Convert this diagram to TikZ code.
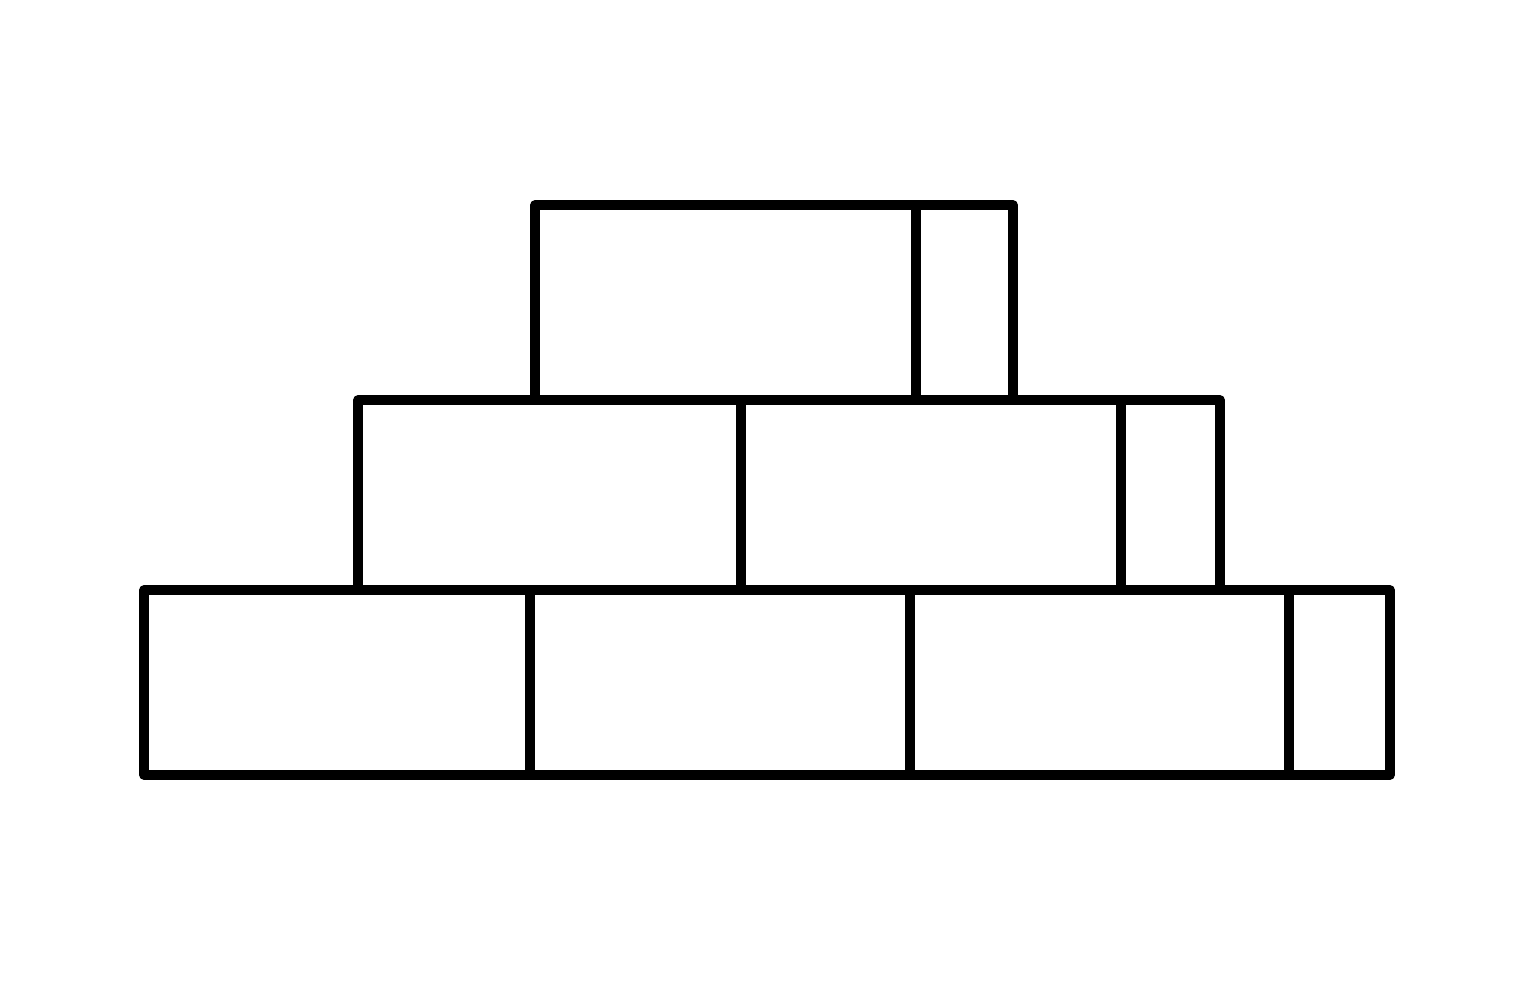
\documentclass[tikz,border=0pt]{standalone}
\begin{document}
\begin{tikzpicture}[brick/.style={black,line width=2.7pt,line join=round}]

        \useasboundingbox (0,0) rectangle (15.35,9.80);

        % bottom row
        \draw [brick] (1.44,2.05) rectangle (5.30,3.90);
        \draw [brick] (5.30,2.05) rectangle (9.10,3.90);
        \draw [brick] (9.10,2.05) rectangle (12.89,3.90);
        \draw [brick] (12.89,2.05) rectangle (13.90,3.90); % half brick

        % middle row
        \draw [brick] (3.58,3.90) rectangle (7.41,5.80);
        \draw [brick] (7.41,3.90) rectangle (11.21,5.80);
        \draw [brick] (11.21,3.90) rectangle (12.20,5.80); % half brick

        % top row
        \draw [brick] (5.35,5.80) rectangle (9.16,7.75);
        \draw [brick] (9.16,5.80) rectangle (10.13,7.75); % half brick

\end{tikzpicture}
\end{document}
